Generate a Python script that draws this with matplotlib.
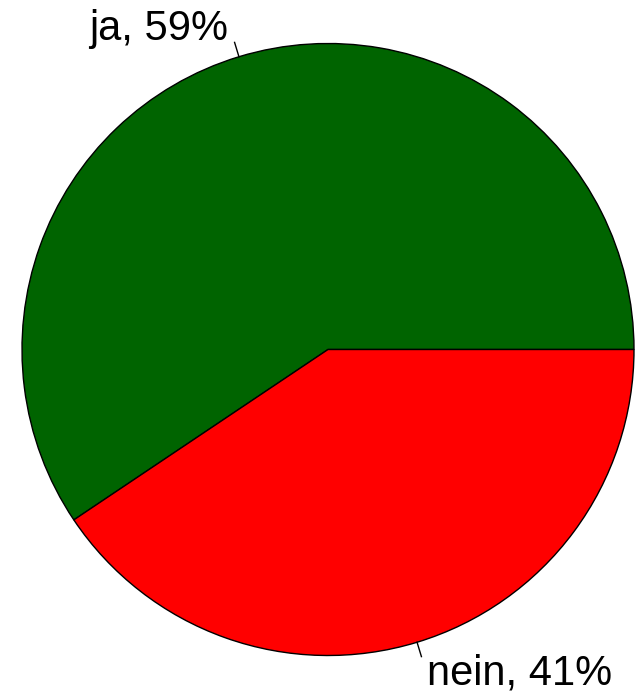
import numpy as np
import matplotlib
matplotlib.use("Agg")
import matplotlib.pyplot as plt

categories = ["ja", "nein"]
values = [59.4, 40.6]
colors = ["#006400", "#ff0000"]

W, H = 644, 692
fig = plt.figure(figsize=(W / 100, H / 100), dpi=100)
ax = fig.add_axes([0, 0, 1, 1])

cx, cy, R = 328, H - 349.5, 306
wedges, _ = ax.pie(values, colors=colors, startangle=0, counterclock=True,
                   center=(cx, cy), radius=R, frame=True,
                   wedgeprops=dict(edgecolor="black", linewidth=1.0))
ax.set_xlim(0, W)
ax.set_ylim(0, H)
ax.set_aspect("equal")
ax.axis("off")

font = dict(family=["Liberation Sans", "DejaVu Sans"], fontsize=30)
text_pos = [(228, H - 40, "right"), (427, H - 684, "left")]
for w, cat, v, (tx, ty, ha) in zip(wedges, categories, values, text_pos):
    mid = np.deg2rad((w.theta1 + w.theta2) / 2)
    x0, y0 = cx + R * np.cos(mid), cy + R * np.sin(mid)
    x1, y1 = cx + (R + 15) * np.cos(mid), cy + (R + 15) * np.sin(mid)
    ax.plot([x0, x1], [y0, y1], color="black", linewidth=1.0)
    ax.text(tx, ty, f"{cat}, {v:.0f}%", ha=ha, va="baseline", **font)

fig.savefig("out.png", dpi=100)
